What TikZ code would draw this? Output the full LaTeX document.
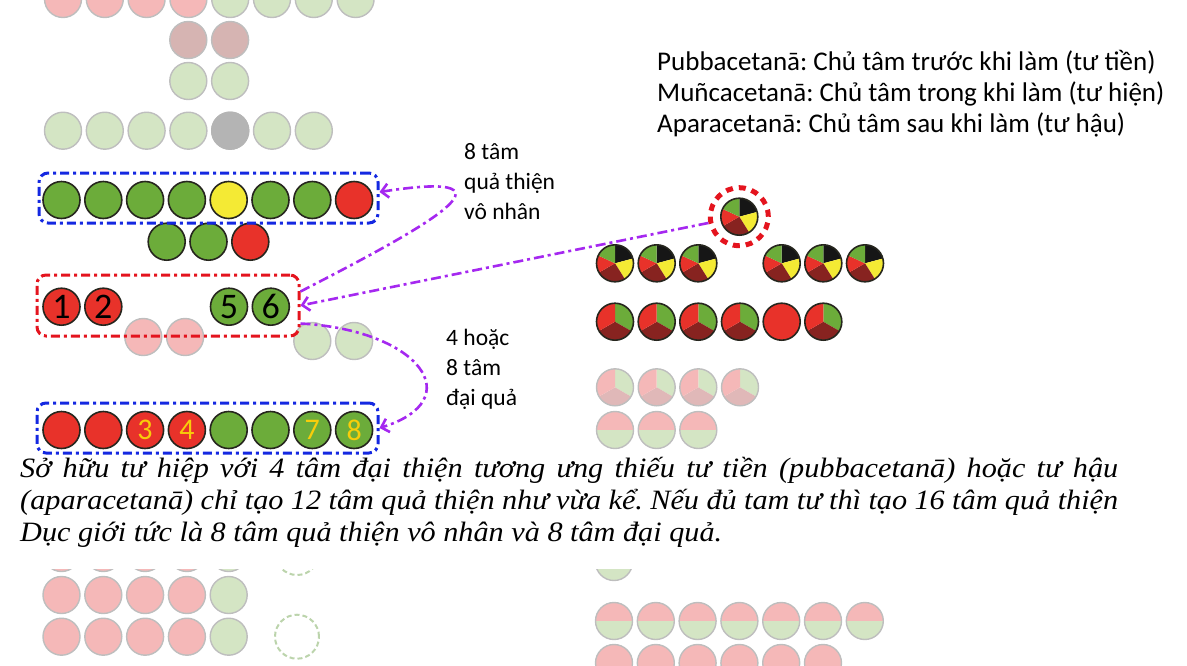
\documentclass[tikz,border=0pt]{standalone}
\usepackage{fontspec}
\setmainfont{Carlito}
\newfontfamily\notefont[FakeStretch=1.08]{Liberation Serif}
\usepackage{xcolor}
\usetikzlibrary{positioning,shapes,arrows.meta}
\frenchspacing

\definecolor{cgreen}{RGB}{108,172,58}
\definecolor{cred}{RGB}{232,50,42}
\definecolor{cyellow}{RGB}{244,234,52}
\definecolor{cdarkred}{RGB}{135,35,32}
\definecolor{cblack}{RGB}{22,22,22}
\definecolor{crim}{RGB}{38,38,30}
\definecolor{lpink}{RGB}{245,184,184}
\definecolor{lgreen}{RGB}{212,229,196}
\definecolor{lbrown}{RGB}{214,180,178}
\definecolor{lgrey}{RGB}{180,180,180}
\definecolor{lrim}{RGB}{190,190,190}
\definecolor{ldark}{RGB}{224,184,184}
\definecolor{lgap}{RGB}{188,212,172}
\definecolor{boxblue}{RGB}{20,40,225}
\definecolor{boxred}{RGB}{228,20,30}
\definecolor{flowviolet}{RGB}{165,40,240}
\definecolor{numyellow}{RGB}{248,205,10}

\tikzset{
  ball/.style={circle, draw=crim, line width=1.6pt, minimum size=37pt, inner sep=0pt},
  pale/.style={circle, draw=lrim, line width=1.4pt, minimum size=37pt, inner sep=0pt},
  bignum/.style={font=\fontsize{36}{36}\selectfont},
  smallnum/.style={font=\fontsize{30}{30}\selectfont, text=numyellow},
  group box/.style={rectangle, rounded corners=9pt, line width=3pt,
    dash pattern=on 9pt off 4pt on 3pt off 4pt},
  flow/.style={draw=flowviolet, line width=2.6pt, ->,
    dash pattern=on 10pt off 4pt on 3pt off 4pt},
  note/.style={align=left, font=\fontsize{23.5}{30}\selectfont, inner sep=0pt},
  gap ring/.style={circle, draw=lgap, line width=2pt, dash pattern=on 5pt off 3pt, minimum size=44pt},
  pie five/.style={ball, path picture={
    \fill[cblack] (path picture bounding box.center) -- ++(90:20pt) arc[start angle=90, end angle=15, radius=20pt] -- cycle;
    \fill[cyellow] (path picture bounding box.center) -- ++(15:20pt) arc[start angle=15, end angle=-58, radius=20pt] -- cycle;
    \fill[cdarkred] (path picture bounding box.center) -- ++(-58:20pt) arc[start angle=-58, end angle=-150, radius=20pt] -- cycle;
    \fill[cred] (path picture bounding box.center) -- ++(210:20pt) arc[start angle=210, end angle=155, radius=20pt] -- cycle;
    \fill[cgreen] (path picture bounding box.center) -- ++(155:20pt) arc[start angle=155, end angle=90, radius=20pt] -- cycle;}},
  pie three/.style={ball, path picture={
    \fill[cgreen] (path picture bounding box.center) -- ++(90:20pt) arc[start angle=90, end angle=-30, radius=20pt] -- cycle;
    \fill[cdarkred] (path picture bounding box.center) -- ++(-30:20pt) arc[start angle=-30, end angle=-150, radius=20pt] -- cycle;
    \fill[cred] (path picture bounding box.center) -- ++(210:20pt) arc[start angle=210, end angle=90, radius=20pt] -- cycle;}},
  pale three/.style={pale, path picture={
    \fill[lgreen] (path picture bounding box.center) -- ++(90:20pt) arc[start angle=90, end angle=-30, radius=20pt] -- cycle;
    \fill[ldark] (path picture bounding box.center) -- ++(-30:20pt) arc[start angle=-30, end angle=-150, radius=20pt] -- cycle;
    \fill[lpink] (path picture bounding box.center) -- ++(210:20pt) arc[start angle=210, end angle=90, radius=20pt] -- cycle;}},
  pale half/.style={pale, path picture={
    \fill[lpink] (path picture bounding box.north west) rectangle (path picture bounding box.east);
    \fill[lgreen] (path picture bounding box.west) rectangle (path picture bounding box.south east);}},
}

\begin{document}
\begin{tikzpicture}[x=1pt, y=-1pt, node distance=41.8pt, >={Straight Barb[length=7pt,width=14pt]}]
    \useasboundingbox (0,0) rectangle (1187,665);
    % các hàng mờ phía trên
    \foreach \c [count=\i] in {lpink,lpink,lpink,lpink,lgreen,lgreen,lgreen,lgreen}
        \node [pale, fill=\c] (top\i) at ({63+41.8*(\i-1)},-1) {};
    \node [pale, fill=lbrown] (brown1) at (188.3,40) {};
    \node [pale, fill=lbrown, right of=brown1] (brown2) {};
    \node [pale, fill=lgreen] (mid1) at (188.3,81) {};
    \node [pale, fill=lgreen, right of=mid1] (mid2) {};
    \foreach \c [count=\i] in {lgreen,lgreen,lgreen,lgreen,lgrey,lgreen,lgreen}
        \node [pale, fill=\c] (sec\i) at ({63+41.8*(\i-1)},130.7) {};
    \node [pale, draw=lgrey, fill=lgrey] at (sec5) {};

    % 8 tâm quả thiện vô nhân
    \foreach \c [count=\i] in {cgreen,cgreen,cgreen,cgreen,cyellow,cgreen,cgreen,cred}
        \node [ball, fill=\c] (vn\i) at ({61.5+41.8*(\i-1)},200) {};
    \node [ball, fill=cgreen] (ex1) at (166.7,241.7) {};
    \node [ball, fill=cgreen, right of=ex1] (ex2) {};
    \node [ball, fill=cred, right of=ex2] (ex3) {};

    % hàng tư hiệp
    \node [pale, fill=lpink] (fp1) at (143.3,337) {};
    \node [pale, fill=lpink, right of=fp1] (fp2) {};
    \node [pale, fill=lgreen] (fg1) at (312.3,341) {};
    \node [pale, fill=lgreen, right of=fg1] (fg2) {};
    \node [ball, fill=cred, bignum] (th1) at (61.5,306.7) {1};
    \node [ball, fill=cred, bignum, right of=th1] (th2) {2};
    \node [ball, fill=cgreen, bignum] (th5) at (229,306.7) {5};
    \node [ball, fill=cgreen, bignum, right of=th5] (th6) {6};

    % 8 tâm đại quả
    \foreach \c/\t [count=\i] in {cred/{},cred/{},cred/3,cred/4,cgreen/{},cgreen/{},cgreen/7,cgreen/8}
        \node [ball, fill=\c, smallnum] (dq\i) at ({61.5+41.8*(\i-1)},430) {\t};

    % các khung
    \node [group box, draw=boxblue, minimum width=339pt, minimum height=50pt] (vonhan) at (208.5,198) {};
    \node [group box, draw=boxred, minimum width=262pt, minimum height=61pt] (tuhiep) at (168,305.5) {};
    \node [group box, draw=boxblue, minimum width=341pt, minimum height=50pt] (daiqua) at (207.5,428) {};

    % các hình tròn bên phải
    \node [pie five] (selpie) at (739.3,216.7) {};
    \node [circle, draw=boxred, line width=5pt, dash pattern=on 7pt off 6pt, minimum size=58pt] (sel) at (selpie) {};
    \foreach \x [count=\i] in {615,656.7,698.3,781.7,823.3,865}
        \node [pie five] (pf\i) at (\x,263.3) {};
    \foreach \x [count=\i] in {615,656.7,698.3,740,823.3}
        \node [pie three] (pt\i) at (\x,321.7) {};
    \node [ball, fill=cred] (ptred) at (781.7,321.7) {};
    \foreach \x [count=\i] in {615,656.7,698.3,740}
        \node [pale three] (pp\i) at (\x,387.3) {};
    \foreach \x [count=\i] in {615,656.7,698.3}
        \node [pale half] (ph\i) at (\x,430) {};

    % các hàng mờ phía dưới
    \foreach \y [count=\j] in {553,595,636.7} {
        \foreach \c [count=\i] in {lpink,lpink,lpink,lpink,lgreen}
            \node [pale, fill=\c] (low\j-\i) at ({61.5+41.8*(\i-1)},\y) {};
    }
    \node [gap ring] (gap1) at (297,553) {};
    \node [gap ring] (gap2) at (297,636.7) {};
    \node [pale, fill=lgreen] (rlow0) at (614,562) {};
    \foreach \i in {1,...,7}
        \node [pale half] (rlow\i) at ({614+41.8*(\i-1)},621) {};
    \foreach \i in {1,...,6}
        \node [pale, fill=lpink] (rbot\i) at ({614+41.8*(\i-1)},663) {};

    % mũi tên
    \draw [flow] ([yshift=14pt]tuhiep.east) .. controls (420,230) and (535,168) .. ([yshift=6pt]vonhan.east);
    \draw [flow] (sel) -- (tuhiep.east);
    \draw [flow] ([yshift=-18pt]tuhiep.east) .. controls (420,330) and (470,400) .. (daiqua.east);

    % chữ
    \node [note, anchor=west] (lbvn) at (464,182) {8 tâm\\quả thiện\\vô nhân};
    \node [note, anchor=west] (lbdq) at (446,369) {4 hoặc\\8 tâm\\đại quả};
    \node [note, anchor=west, font=\fontsize{27}{31}\selectfont] (cetana) at (657,94)
        {Pubbacetanā: Chủ tâm trước khi làm (tư tiền)\\Muñcacetanā: Chủ tâm trong khi làm (tư hiện)\\Aparacetanā: Chủ tâm sau khi làm (tư hậu)};

    \fill [white] (0,455) rectangle (1187,569);
    \node [anchor=north west, inner xsep=20pt, inner ysep=0pt, text width=1098pt, align=justify,
        font=\notefont\itshape\fontsize{28}{32}\selectfont] (caption) at (0,457.5)
        {Sở hữu tư hiệp với 4 tâm đại thiện tương ưng thiếu tư tiền (pubbacetanā) hoặc tư hậu\linebreak
         (aparacetanā) chỉ tạo 12 tâm quả thiện như vừa kể. Nếu đủ tam tư thì tạo 16 tâm quả thiện\linebreak
         Dục giới tức là 8 tâm quả thiện vô nhân và 8 tâm đại quả.};
\end{tikzpicture}
\end{document}
